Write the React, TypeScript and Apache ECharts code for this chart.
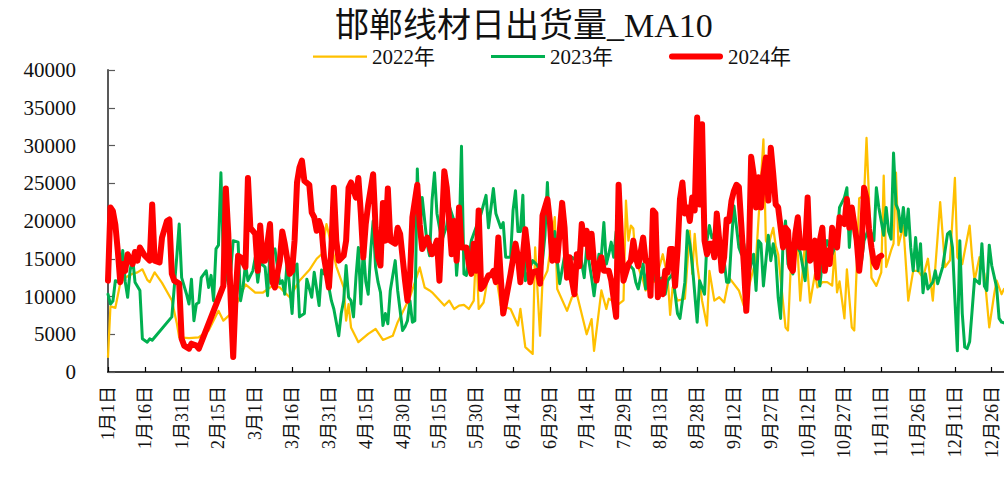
import React, { useEffect, useRef } from "react";
import * as echarts from "echarts";

const TITLE = "邯郸线材日出货量_MA10";
const SERIES_NAMES = ["2022年", "2023年", "2024年"];
const COLORS = ["#FFC000", "#00B050", "#FF0000"];
// calendar of the x axis (leap year: 2月 has 29 days)
const MONTH_DAYS = [31, 29, 31, 30, 31, 30, 31, 31, 30, 31, 30, 31];
const Y_TICKS = { min: 0, max: 40000, interval: 5000 };

// [day index from 1月1日, value]
const s2022: [number, number][] = [
  [0, 2000], [1, 8700], [3, 8500], [5, 11800], [7, 12500], [10, 13000], [12, 13200], [14, 13600], [16, 12200], [17, 11900],
  [19, 13200], [22, 11800], [26, 9500], [28, 6500], [29, 4600], [33, 4500], [37, 4600], [41, 5500], [45, 8100], [47, 6800],
  [51, 8000], [56, 11600], [60, 10500], [63, 10500], [67, 11400], [70, 11200], [74, 9900], [78, 12100], [82, 13500], [85, 15000],
  [87, 15600], [89, 19600], [93, 14000], [96, 11200], [97, 6800], [98, 9000], [99, 5900], [102, 3950], [106, 5050], [109, 5700],
  [112, 4250], [116, 4800], [118, 6600], [123, 9900], [127, 13850], [129, 11200], [131, 10800], [132, 10550], [137, 8800], [139, 9450],
  [141, 8350], [143, 8800], [145, 8900], [147, 8350], [149, 9450], [150, 16500], [151, 8350], [153, 9200], [155, 13000], [158, 13000],
  [160, 8800], [164, 8350], [167, 6150], [168, 8350], [170, 3300], [173, 2400], [174, 16500], [176, 4800], [177, 12000], [179, 13400],
  [182, 20500], [183, 11000], [187, 8100], [189, 9900], [191, 10300], [195, 5000], [197, 7000], [198, 2800], [201, 10800], [203, 8350],
  [204, 9700], [208, 9000], [210, 9500], [211, 22700], [212, 17400], [213, 19400], [214, 19000], [215, 14750], [218, 12100], [219, 10800],
  [221, 12100], [223, 11900], [226, 15600], [228, 12500], [229, 7550], [230, 11200], [232, 9450], [235, 9700], [237, 18700], [238, 13000],
  [239, 18300], [240, 14300], [242, 9450], [244, 6150], [245, 13400], [247, 9450], [249, 9900], [251, 9200], [253, 12500], [257, 10800],
  [259, 8800], [261, 11200], [264, 15000], [267, 30800], [268, 17400], [269, 16800], [271, 19100], [272, 16700], [273, 15600], [276, 5900],
  [277, 5500], [278, 13000], [280, 19600], [281, 15600], [282, 9450], [284, 17400], [286, 9200], [288, 13000], [289, 11200], [291, 11900],
  [293, 11900], [295, 11450], [296, 16000], [297, 10550], [298, 12000], [300, 7100], [301, 13600], [303, 5900], [304, 5500], [305, 13900],
  [306, 23000], [308, 23300], [309, 31000], [310, 23100], [311, 12500], [313, 11400], [315, 13200], [316, 26000], [317, 13900], [319, 16100],
  [320, 17000], [321, 26400], [322, 16800], [324, 19400], [326, 9450], [328, 13400], [330, 13400], [332, 12500], [334, 15000], [336, 9450],
  [338, 18100], [339, 22500], [341, 13900], [343, 14800], [345, 25700], [346, 15200], [348, 14300], [351, 19400], [352, 15200], [353, 12100],
  [355, 15200], [357, 13000], [359, 5900], [361, 10300], [362, 12100], [364, 10300], [365, 11000],
];

const s2023: [number, number][] = [
  [0, 10300], [1, 9000], [2, 9400], [3, 12100], [5, 11900], [6, 16100], [7, 12000], [8, 9900], [9, 13400], [10, 15200],
  [11, 11900], [13, 10800], [14, 4400], [16, 3950], [17, 4400], [18, 4200], [26, 7300], [28, 15200], [29, 19600], [30, 12500],
  [32, 10300], [33, 9000], [34, 12300], [35, 6800], [36, 9000], [37, 9200], [38, 12500], [40, 13400], [41, 11200], [42, 12800],
  [43, 9450], [44, 16300], [45, 16800], [46, 26400], [47, 14750], [49, 11700], [50, 13400], [51, 17400], [53, 17200], [54, 9450],
  [55, 11200], [56, 14300], [57, 12100], [59, 13400], [60, 15200], [61, 11900], [62, 14500], [64, 13900], [65, 10100], [66, 15900],
  [68, 16300], [70, 11700], [71, 12100], [72, 10300], [73, 14750], [75, 7750], [76, 13900], [77, 14300], [78, 7300], [80, 7750],
  [81, 12300], [83, 9900], [84, 13200], [86, 8800], [87, 13500], [88, 13000], [89, 14500], [90, 11200], [91, 9450], [92, 8350],
  [94, 4800], [95, 7750], [96, 9450], [97, 14100], [98, 9900], [99, 9450], [100, 7300], [101, 12500], [102, 16500], [103, 9000],
  [104, 16500], [105, 12000], [106, 10300], [107, 15900], [108, 20000], [109, 13900], [110, 11900], [111, 10550], [112, 6150], [113, 7750],
  [114, 6400], [115, 10800], [117, 14750], [118, 10800], [120, 5500], [121, 6000], [122, 6800], [123, 9450], [124, 6600], [125, 6800],
  [126, 26900], [127, 18300], [128, 23100], [130, 17000], [131, 15400], [132, 22700], [133, 26400], [134, 21000], [136, 17400], [138, 19400],
  [139, 22000], [141, 20000], [142, 12800], [143, 17000], [144, 29900], [145, 13000], [146, 12800], [148, 17400], [149, 18300], [152, 21000],
  [154, 23400], [155, 19100], [157, 24300], [158, 21000], [160, 19100], [161, 19800], [162, 15200], [164, 15200], [165, 21400], [166, 24000],
  [167, 18600], [168, 18600], [169, 23400], [170, 12100], [172, 13900], [173, 14750], [175, 14100], [176, 13000], [177, 14750], [178, 18100],
  [179, 25100], [180, 17400], [181, 15200], [182, 18600], [183, 14750], [184, 11700], [186, 15400], [187, 13400], [189, 15200], [191, 14700],
  [192, 16300], [194, 12500], [195, 16500], [197, 12500], [198, 10100], [200, 15600], [201, 15400], [202, 19800], [203, 14300], [204, 15600],
  [205, 17200], [206, 15200], [207, 18600], [208, 13900], [210, 13000], [212, 14300], [214, 13600], [215, 11900], [216, 11000], [218, 14300],
  [219, 11000], [220, 13900], [222, 13300], [223, 12100], [226, 12500], [227, 10300], [228, 12100], [230, 13000], [232, 7750], [233, 7100],
  [235, 11900], [236, 18700], [237, 17000], [238, 14300], [240, 6600], [241, 12100], [243, 10300], [244, 17400], [245, 19400], [246, 17800],
  [247, 18300], [249, 17400], [251, 14750], [252, 11900], [253, 11900], [254, 17400], [255, 22000], [257, 16500], [258, 15600], [259, 17000],
  [261, 13000], [263, 15600], [264, 10800], [265, 17400], [266, 17000], [267, 11400], [269, 18100], [270, 14750], [271, 17000], [272, 15200],
  [273, 9900], [274, 7100], [275, 17400], [276, 20000], [277, 14300], [279, 13000], [280, 17000], [282, 15900], [284, 12100], [285, 17000],
  [287, 14750], [288, 17000], [290, 11400], [291, 14750], [293, 17400], [295, 15600], [297, 17400], [298, 21800], [300, 23100], [301, 24400],
  [302, 16500], [303, 21400], [305, 17000], [307, 14750], [308, 17400], [310, 19100], [311, 18300], [312, 17400], [313, 24400], [314, 21800],
  [316, 18100], [317, 21800], [318, 18600], [319, 17600], [320, 29000], [321, 22200], [322, 21400], [323, 18600], [324, 21800], [325, 18100],
  [326, 21600], [327, 16500], [328, 13400], [329, 17800], [330, 13400], [331, 17000], [332, 10500], [333, 13000], [334, 11000], [336, 11900],
  [337, 13400], [338, 11700], [340, 13900], [342, 18300], [343, 18600], [344, 16500], [346, 2800], [347, 17400], [348, 7750], [349, 3300],
  [350, 3100], [351, 4000], [352, 8100], [353, 12300], [355, 11700], [356, 17000], [357, 11400], [358, 10800], [359, 16800], [360, 14100],
  [362, 11200], [363, 7100], [364, 6600], [365, 6500],
];

const s2024: [number, number][] = [
  [0, 12100], [1, 21800], [2, 21300], [3, 19500], [4, 16000], [5, 11900], [6, 14300], [7, 13400], [8, 15600], [10, 14300],
  [11, 15900], [12, 14750], [13, 16500], [15, 15400], [17, 14750], [18, 22200], [19, 14750], [21, 14500], [22, 17800], [24, 20000],
  [25, 20200], [26, 13000], [27, 12100], [29, 11700], [30, 4400], [31, 3500], [33, 3100], [34, 3750], [36, 3500], [37, 3100],
  [47, 11400], [48, 24300], [49, 18300], [50, 9450], [51, 2000], [52, 10300], [53, 15400], [54, 15200], [56, 13900], [57, 25700],
  [58, 19100], [60, 18300], [61, 13400], [62, 19400], [63, 14750], [64, 14750], [66, 19600], [67, 11900], [68, 11200], [70, 14750],
  [71, 18600], [72, 17000], [74, 13000], [75, 13400], [76, 17400], [77, 25100], [78, 27100], [79, 28000], [80, 25300], [82, 24800],
  [83, 21100], [84, 20500], [85, 18700], [86, 20000], [87, 19000], [88, 15200], [90, 11200], [91, 16500], [92, 24400], [93, 17400],
  [94, 14750], [96, 15400], [97, 17400], [98, 24400], [99, 25100], [101, 23100], [102, 25700], [103, 21000], [104, 15200], [105, 19600],
  [106, 22200], [108, 26200], [109, 19100], [110, 15200], [111, 14100], [112, 22400], [113, 17400], [114, 24300], [115, 17400], [117, 17000],
  [118, 19100], [119, 18300], [121, 12100], [122, 9450], [123, 12500], [124, 20500], [126, 24800], [127, 19500], [128, 16300], [130, 17800],
  [132, 15600], [134, 17400], [135, 12100], [137, 26600], [138, 24400], [139, 20000], [140, 15600], [141, 20000], [142, 14750], [143, 21800],
  [144, 16500], [146, 16500], [147, 14300], [148, 13000], [149, 17000], [150, 13400], [151, 21400], [152, 11000], [153, 11400], [155, 12800],
  [156, 12800], [157, 13400], [158, 11900], [159, 17800], [160, 12500], [161, 7750], [162, 9450], [164, 13000], [166, 17000], [167, 15200],
  [168, 11900], [170, 18900], [171, 16000], [172, 11900], [173, 13200], [175, 13400], [176, 11700], [177, 20700], [179, 22900], [180, 20000],
  [181, 14750], [182, 17400], [183, 14750], [185, 22400], [186, 19100], [187, 12500], [188, 15200], [189, 12100], [190, 10300], [191, 15600],
  [192, 14000], [193, 19600], [194, 17000], [195, 18700], [196, 15200], [197, 18300], [198, 14300], [199, 12100], [200, 14300], [201, 15200],
  [202, 13400], [204, 13400], [205, 12100], [207, 7300], [208, 24800], [209, 17400], [210, 12100], [212, 14300], [213, 14750], [214, 17400],
  [215, 15200], [216, 14000], [218, 17800], [219, 14750], [220, 14750], [221, 10100], [222, 21400], [223, 21000], [224, 9900], [225, 11900],
  [226, 10300], [227, 13400], [228, 13200], [229, 16300], [230, 16300], [231, 11400], [232, 16100], [233, 22900], [234, 25100], [235, 21000],
  [236, 21800], [237, 20000], [238, 23100], [239, 21400], [240, 33700], [241, 22200], [242, 32800], [243, 17400], [244, 15600], [245, 17000],
  [246, 17000], [247, 15200], [248, 21000], [249, 17400], [250, 13400], [251, 15200], [252, 20200], [253, 20000], [254, 22700], [255, 24000],
  [256, 24800], [257, 24500], [259, 14300], [260, 8100], [261, 14300], [262, 28500], [263, 26200], [264, 21800], [265, 25800], [266, 21800],
  [267, 26200], [268, 28400], [269, 22700], [270, 29700], [271, 26200], [272, 22200], [273, 21800], [275, 16500], [276, 19100], [277, 18700],
  [278, 13900], [279, 13400], [280, 18300], [281, 20500], [282, 16500], [284, 16500], [285, 23100], [286, 14750], [288, 17400], [289, 12500],
  [290, 17400], [291, 19100], [292, 13400], [293, 16100], [294, 14300], [295, 19100], [296, 17400], [297, 16500], [298, 20500], [300, 19600],
  [301, 22900], [302, 19100], [303, 21800], [305, 17400], [306, 13400], [307, 16500], [308, 24400], [309, 23000], [310, 19000], [311, 16500],
  [312, 14500], [313, 13900], [314, 15200], [315, 15400],
];

const DATA = [s2022, s2023, s2024];
const LINE_WIDTHS = [2.25, 3, 6];
const LEGEND_ICONS = [
  "path://M0,0H54V2.25H0Z",
  "path://M0,0H54V3H0Z",
  "path://M3,0H51A3,3,0,0,1,51,6H3A3,3,0,0,1,3,0Z",
];

const dateLabels: string[] = [];
MONTH_DAYS.forEach((n, m) => {
  for (let d = 1; d <= n; d++) dateLabels.push(`${m + 1}月${d}日`);
});

const FONT = "'Liberation Serif', 'Noto Sans CJK SC', serif";

export default function App() {
  const ref = useRef<HTMLDivElement>(null);
  useEffect(() => {
    if (!ref.current) return;
    const chart = echarts.init(ref.current, undefined, { renderer: "svg" });
    chart.setOption({
      animation: false,
      backgroundColor: "#ffffff",
      textStyle: { fontFamily: FONT },
      title: {
        text: TITLE,
        left: 335,
        top: 8,
        padding: 0,
        textStyle: { fontSize: 34, fontWeight: "normal", color: "#111", fontFamily: FONT },
      },
      legend: {
        data: SERIES_NAMES.map((name, i) => ({ name, icon: LEGEND_ICONS[i] })),
        left: 313,
        top: 46,
        padding: 0,
        itemWidth: 54,
        itemHeight: 14,
        itemGap: 56,
        textStyle: { fontSize: 21, color: "#111", fontFamily: FONT },
      },
      grid: { left: 108, top: 70, right: -2, bottom: 108, containLabel: false },
      xAxis: {
        type: "category",
        data: dateLabels,
        boundaryGap: false,
        axisLine: { show: true, lineStyle: { color: "#000", width: 1.5 } },
        axisTick: { show: true, interval: 14, inside: true, length: 5, lineStyle: { color: "#000", width: 1.2 } },
        axisLabel: { interval: 14, rotate: 90, fontSize: 18, margin: 14, color: "#111", fontFamily: FONT },
        splitLine: { show: false },
      },
      yAxis: {
        type: "value",
        min: Y_TICKS.min,
        max: Y_TICKS.max,
        interval: Y_TICKS.interval,
        axisLine: { show: true, lineStyle: { color: "#595959", width: 2 } },
        axisTick: { show: true, inside: true, length: 7, lineStyle: { color: "#595959", width: 1.2 } },
        axisLabel: { fontSize: 21, margin: 32, color: "#111", fontFamily: FONT, formatter: (v: number) => String(v) },
        splitLine: { show: false },
      },
      series: SERIES_NAMES.map((name, i) => ({
        name,
        type: "line",
        data: DATA[i],
        symbol: "none",
        showSymbol: false,
        z: 2 + i,
        color: COLORS[i],
        itemStyle: { color: COLORS[i] },
        lineStyle: { color: COLORS[i], width: LINE_WIDTHS[i], cap: "round", join: "round" },
      })),
    });
    return () => chart.dispose();
  }, []);
  return (
    <div
      ref={ref}
      style={{ position: "absolute", left: 0, top: 0, width: 1004, height: 480 }}
    />
  );
}
